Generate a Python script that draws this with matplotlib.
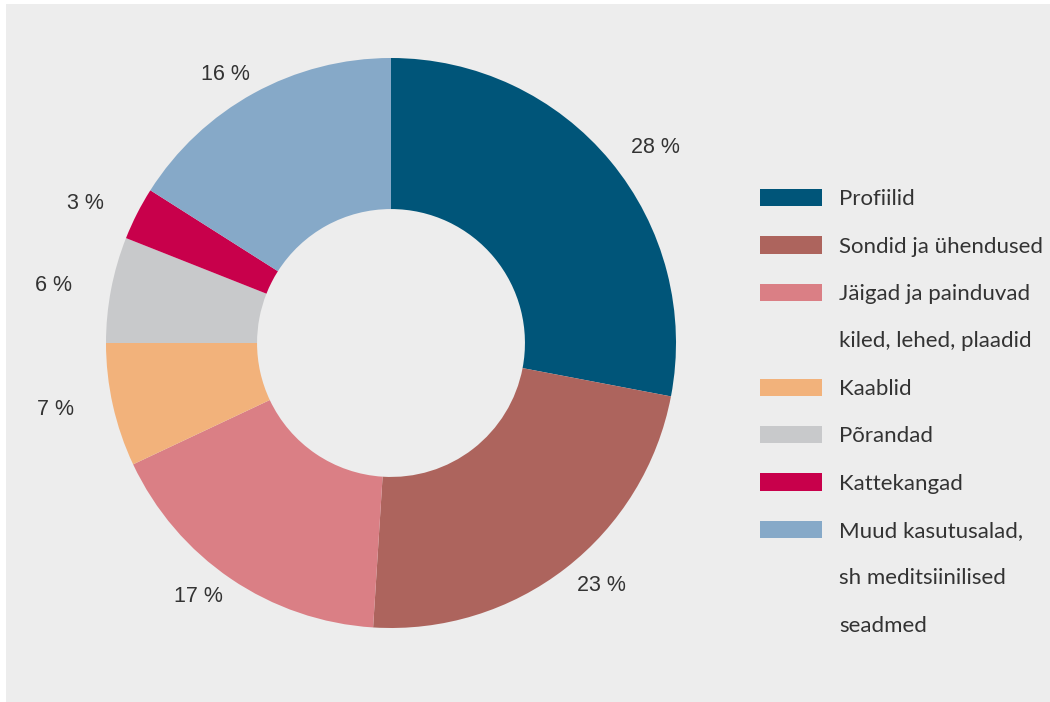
import matplotlib.pyplot as plt
from matplotlib.patches import Patch, Rectangle

categories = ["Profiilid", "Sondid ja ühendused", "Jäigad ja painduvad\nkiled, lehed, plaadid",
              "Kaablid", "Põrandad", "Kattekangad", "Muud kasutusalad,\nsh meditsiinilised\nseadmed"]
shares = [28, 23, 17, 7, 6, 3, 16]
colors = ["#005579", "#AD645D", "#DA7F85", "#F2B27B", "#C8C9CB", "#C8004B", "#86A9C8"]

W, H = 1050, 702
fig = plt.figure(figsize=(W / 100, H / 100), dpi=100, facecolor="white")

# grey panel behind everything, small white strip on left and top
fig.patches.append(Rectangle((6 / W, 0), 1 - 6 / W, 1 - 4 / H, transform=fig.transFigure,
                             facecolor="#EDEDED", edgecolor="none", zorder=-1))

# pie centre (391, 343) px, outer radius 285 px
cx, cy, r = 391, 343, 285
ax = fig.add_axes([(cx - r) / W, 1 - (cy + r) / H, 2 * r / W, 2 * r / H])
ax.set_facecolor("none")

wedges, texts, autotexts = ax.pie(
    shares, colors=colors, startangle=90, counterclock=False, radius=1,
    wedgeprops=dict(width=0.53, edgecolor="none"),
    autopct=lambda p: f"{p:.0f} %", pctdistance=1.17,
    textprops=dict(fontsize=15.5, color="#333333", family="Liberation Sans"))
# labels in the original sit on a slightly flattened ring
for t in autotexts:
    x, y = t.get_position()
    t.set_position((x * 1.03, y * 0.92))
ax.set_xlim(-1, 1)
ax.set_ylim(-1, 1)
ax.set_aspect("equal")
ax.axis("off")

# legend: one row per text line, coloured patch only on the first line
handles, labels = [], []
for cat, col in zip(categories, colors):
    for i, line in enumerate(cat.split("\n")):
        if i == 0:
            handles.append(Patch(facecolor=col, edgecolor="none"))
        else:
            handles.append(Patch(facecolor="none", edgecolor="none"))
        labels.append(line)

fig.legend(handles, labels, loc="upper left", bbox_to_anchor=(760 / W, 1 - 189 / H),
           bbox_transform=fig.transFigure, frameon=False, borderpad=0, borderaxespad=0,
           handlelength=2.8, handleheight=0.81, handletextpad=0.77, labelspacing=1.22,
           prop=dict(family="Lato", size=16), labelcolor="#333333")

plt.savefig("out.png", dpi=100, facecolor=fig.get_facecolor())
